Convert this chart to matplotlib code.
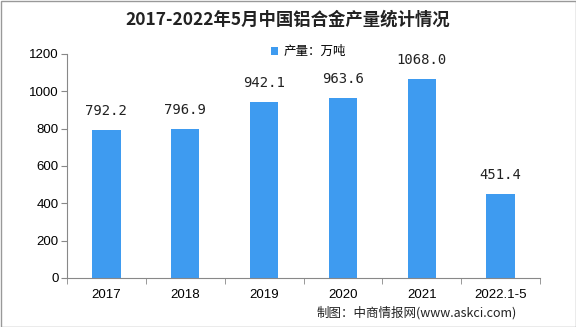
import matplotlib
matplotlib.use("Agg")
import matplotlib.pyplot as plt
from matplotlib.patches import Rectangle

plt.rcParams['font.family'] = ['Noto Sans CJK SC', 'DejaVu Sans']

categories = ['2017', '2018', '2019', '2020', '2021', '2022.1-5']
values = [792.2, 796.9, 942.1, 963.6, 1068.0, 451.4]
labels = ['792.2', '796.9', '942.1', '963.6', '1068.0', '451.4']
yticks = [0, 200, 400, 600, 800, 1000, 1200]

W, H = 576, 327
fig = plt.figure(figsize=(W/100, H/100), dpi=100)
ax = fig.add_axes([67/W, 1-278/H, (540-67)/W, (278-54)/H])

x = list(range(len(categories)))
bars = ax.bar(x, values, width=0.36, color='#3E9BF0', label='产量：万吨', zorder=2)
for xi, v, lab in zip(x, values, labels):
    ax.text(xi, v + 65, lab, ha='center', va='bottom', fontsize=10,
            family='DejaVu Sans Mono', color='#222222')

ax.set_xlim(-0.5, len(categories) - 0.5)
ax.set_ylim(0, 1200)
ax.set_yticks(yticks)
ax.set_yticklabels([str(t) for t in yticks], fontsize=9.5, family='Liberation Sans')
ax.set_xticks(x)
ax.set_xticklabels(categories, fontsize=9.5, family='Liberation Sans')
ax.set_xticks([i - 0.5 for i in range(len(categories) + 1)], minor=True)
ax.tick_params(axis='x', which='major', length=0, pad=8)
ax.tick_params(axis='x', which='minor', length=4, direction='out', color='#888888')
ax.tick_params(axis='y', length=4, direction='out', color='#888888', pad=2)
for s in ['top', 'right']:
    ax.spines[s].set_visible(False)
for s in ['left', 'bottom']:
    ax.spines[s].set_color('#888888')
    ax.spines[s].set_linewidth(0.8)

leg = ax.legend(loc='upper center', bbox_to_anchor=(0.51, 1.09), frameon=False,
                fontsize=9, handlelength=0.6, handleheight=0.6, handletextpad=0.4)

fig.text(0.5, 1-20/H, '2017-2022年5月中国铝合金产量统计情况', ha='center', va='center',
         fontsize=12.5, fontweight='bold', color='#222222')
fig.text(317/W, 1-313/H, '制图：中商情报网(www.askci.com)', ha='left', va='center',
         fontsize=9, color='#222222')

fig.patches.append(Rectangle((0.5/W, 0.5/H), 1-1/W, 1-1/H, transform=fig.transFigure,
                             fill=False, edgecolor='#999999', linewidth=1))

fig.savefig('out.png', dpi=100)
